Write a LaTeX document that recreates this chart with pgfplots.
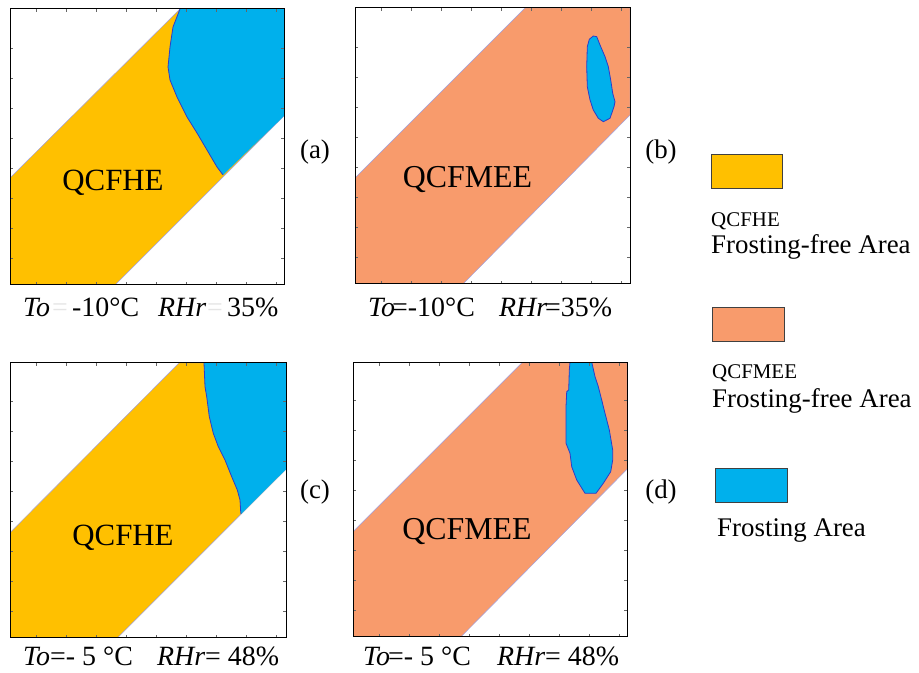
\documentclass[border=0pt]{standalone}
\usepackage{pgfplots}
\pgfplotsset{compat=1.18}
\usepackage{fontspec}
\setmainfont{Liberation Serif}
\definecolor{cyel}{RGB}{255,192,0}
\definecolor{corg}{RGB}{248,155,108}
\definecolor{cblu}{RGB}{0,176,236}
\definecolor{cedge}{RGB}{45,60,200}
\definecolor{cband}{RGB}{160,160,225}
\pgfplotsset{panel/.style={scale only axis, anchor=south west,
  xtick={26.7,56.7,86.7,116.7,146.7,176.7,206.7,236.7,266.7},
  ytick={26.5,56.6,86.7,116.8,146.9,177,207.1,237.2},
  xticklabels={}, yticklabels={},
  tick align=inside, major tick length=3bp,
  tick style={black!60, line width=0.5bp},
  axis line style={line width=1bp},
  axis on top, clip=true}}
\begin{document}
\begin{tikzpicture}[x=1bp,y=1bp]
\useasboundingbox (0,0) rectangle (919,673);
% (a)
\begin{axis}[panel, at={(10,388)}, width=274bp, height=276bp, xmin=0, xmax=274, ymin=0, ymax=276]
\addplot[fill=cyel, draw=cband, line width=0.5bp] coordinates {(0,0) (105,0) (274,169) (274,276) (170,276) (0,107)} -- cycle;
\addplot[fill=cblu, draw=none] coordinates {(213,110) (207,118) (197,135) (187,152) (177,168) (167,188) (160,205) (158,218) (160,238) (163,258) (170,276) (274,276) (274,169)} -- cycle;
\addplot[cedge, line width=0.8bp] coordinates {(213,110) (207,118) (197,135) (187,152) (177,168) (167,188) (160,205) (158,218) (160,238) (163,258) (170,276)};
\node[font=\fontsize{31}{36}\selectfont] at (axis cs:103,102) {QCFHE};
\end{axis}
% (b)
\begin{axis}[panel, at={(355,389)}, width=275bp, height=276bp, xmin=0, xmax=275, ymin=0, ymax=276]
\addplot[fill=corg, draw=cband, line width=0.5bp] coordinates {(0,0) (108,0) (275,169) (275,276) (170,276) (0,106)} -- cycle;
\addplot[fill=cblu, draw=cedge, line width=0.8bp] coordinates {(238.3,248) (234.3,244.7) (232.3,237.3) (231.7,217.3) (232.3,197.3) (235,184) (238.3,174) (243.3,165.7) (248.3,162.3) (255,165.7) (259,177.3) (260,182.3) (257.7,190.7) (255.7,204) (253.3,217.3) (250,227.3) (245,239) (241.7,247.3)} -- cycle;
\node[font=\fontsize{32}{37}\selectfont] at (axis cs:112.5,104) {QCFMEE};
\end{axis}
% (c)
\begin{axis}[panel, at={(10,35)}, width=276bp, height=275bp, xmin=0, xmax=276, ymin=0, ymax=275]
\addplot[fill=cyel, draw=cband, line width=0.5bp] coordinates {(0,0) (107.3,0) (276,168.7) (276,275) (169,275) (0,105.3)} -- cycle;
\addplot[fill=cblu, draw=none] coordinates {(231,124) (230.7,126.3) (230,138) (227.3,148) (221.7,161.3) (215,178) (208.3,191.3) (203.3,204.7) (199.3,221.3) (196.7,241.3) (195,251.3) (194,275) (276,275) (276,168.7)} -- cycle;
\addplot[cedge, line width=0.8bp] coordinates {(231,124) (230.7,126.3) (230,138) (227.3,148) (221.7,161.3) (215,178) (208.3,191.3) (203.3,204.7) (199.3,221.3) (196.7,241.3) (195,251.3) (194,275)};
\node[font=\fontsize{31}{36}\selectfont] at (axis cs:113,100.5) {QCFHE};
\end{axis}
% (d)
\begin{axis}[panel, at={(353,36)}, width=274bp, height=274bp, xmin=0, xmax=274, ymin=0, ymax=274]
\addplot[fill=corg, draw=cband, line width=0.5bp] coordinates {(0,0) (107.7,0) (274,167.7) (274,274) (168.7,274) (0,105.3)} -- cycle;
\addplot[fill=cblu, draw=cedge, line width=0.8bp] coordinates {(217,275) (216.3,267) (215.7,247) (213.7,245.3) (213,230.3) (213,193.7) (217,183.7) (218.7,170.3) (223.7,157) (232,143.7) (243,143.7) (250.3,153.7) (257.7,165.3) (259.7,177) (259.7,187) (256.3,207) (252,223.7) (248.7,237) (245.3,250.3) (242,260.3) (238.7,275)} -- cycle;
\node[font=\fontsize{32}{37}\selectfont] at (axis cs:114,105.3) {QCFMEE};
\end{axis}
% captions
\begin{scope}[every node/.style={anchor=base west, inner sep=0pt, font=\fontsize{28}{32}\selectfont}]
\node at (23,356) {\textit{To}};
\node[text=black!10] at (52,356) {=};
\node at (72,356) {-10°C};
\node at (158,356) {\textit{RHr}};
\node[text=black!10] at (207,356) {=};
\node at (227,356) {35\%};
\node at (368,356) {\textit{To}};
\node at (392,356) {=-10°C};
\node at (499,356) {\textit{RHr}};
\node at (545,356) {=35\%};
\node at (23,7) {\textit{To}};
\node at (50,7) {=- 5 °C};
\node at (157,7) {\textit{RHr}};
\node at (205,7) {= 48\%};
\node at (363,7) {\textit{To}};
\node at (388,7) {=- 5 °C};
\node at (497,7) {\textit{RHr}};
\node at (545,7) {= 48\%};
\end{scope}
\begin{scope}[every node/.style={inner sep=0pt, font=\fontsize{27}{32}\selectfont}]
\node at (315,521) {(a)};
\node at (661,521) {(b)};
\node at (315,181) {(c)};
\node at (661,181) {(d)};
\end{scope}
% legend
\draw[fill=cyel, draw=black!75, line width=0.8bp] (711,485) rectangle (782,519);
\draw[fill=corg, draw=black!75, line width=0.8bp] (712,332) rectangle (784,366);
\draw[fill=cblu, draw=black!75, line width=0.8bp] (715,171) rectangle (787,205);
\begin{scope}[every node/.style={anchor=base west, inner sep=0pt}]
\node[font=\fontsize{21}{25}\selectfont] at (711,446) {QCFHE};
\node[font=\fontsize{27}{32}\selectfont] at (711,419) {Frosting-free Area};
\node[font=\fontsize{21}{25}\selectfont] at (712,294) {QCFMEE};
\node[font=\fontsize{27}{32}\selectfont] at (712,265) {Frosting-free Area};
\node[font=\fontsize{27}{32}\selectfont] at (717,136) {Frosting Area};
\end{scope}
\end{tikzpicture}
\end{document}
